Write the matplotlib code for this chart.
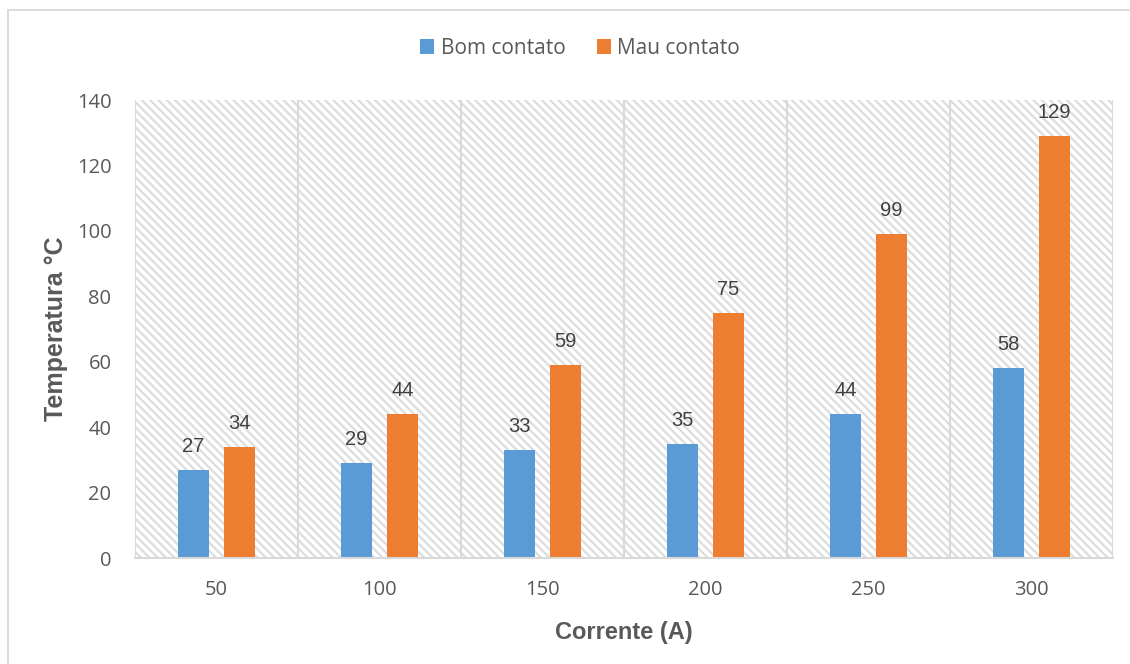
import matplotlib
matplotlib.use("Agg")
import matplotlib.pyplot as plt
from matplotlib.patches import Rectangle
import numpy as np

# Data
correntes = ["50", "100", "150", "200", "250", "300"]
bom_contato = [27, 29, 33, 35, 44, 58]
mau_contato = [34, 44, 59, 75, 99, 129]
y_ticks = [0, 20, 40, 60, 80, 100, 120, 140]

BLUE = "#5B9BD5"
ORANGE = "#ED7D31"
TEXT = "#595959"
GRID = "#D9D9D9"
HATCH = "#DDDDDD"

plt.rcParams["hatch.color"] = HATCH
plt.rcParams["hatch.linewidth"] = 1.6

W, H = 1130, 664
fig = plt.figure(figsize=(W / 100, H / 100), dpi=100)
fig.patch.set_facecolor("white")

# chart-area border
fig.patches.append(Rectangle((8 / W, -0.1), 1.2, 1.1 - 10 / H,
                             transform=fig.transFigure, fill=False,
                             edgecolor=GRID, linewidth=1.3, zorder=0))

ax = fig.add_axes([135 / W, 1 - 558 / H, (1113 - 135) / W, (558 - 100) / H])
ax.set_facecolor("white")

x = np.arange(len(correntes))
ax.set_xlim(-0.5, len(correntes) - 0.5)
ax.set_ylim(0, 140)

# hatched plot-area background
bg = Rectangle((0, 0), 1, 1, transform=ax.transAxes, facecolor="white",
               edgecolor=HATCH, hatch="\\\\\\\\", linewidth=0, zorder=0)
ax.add_patch(bg)

# category separators
for b in np.arange(-0.5, len(correntes), 1.0):
    ax.axvline(b, color=GRID, linewidth=1.5, zorder=1)

bw = 0.196
off = 0.141
bars1 = ax.bar(x - off, bom_contato, bw, color=BLUE, label="Bom contato", zorder=3)
bars2 = ax.bar(x + off, mau_contato, bw, color=ORANGE, label="Mau contato", zorder=3)

for bars, vals in ((bars1, bom_contato), (bars2, mau_contato)):
    for r, v in zip(bars, vals):
        ax.annotate(str(v), (r.get_x() + r.get_width() / 2, v),
                    xytext=(0, 10), textcoords="offset points",
                    ha="center", va="bottom", fontsize=14.5,
                    family="Liberation Sans", color="#404040")

for s in ("top", "right", "left"):
    ax.spines[s].set_visible(False)
ax.spines["bottom"].set_color(GRID)
ax.spines["bottom"].set_linewidth(1.5)
ax.spines["bottom"].set_zorder(4)

ax.set_xticks(x)
ax.set_xticklabels(correntes)
ax.set_yticks(y_ticks)
ax.tick_params(axis="both", length=0, labelsize=14.5, labelcolor=TEXT)
ax.tick_params(axis="x", pad=16)
ax.tick_params(axis="y", pad=17)
for lab in ax.get_xticklabels() + ax.get_yticklabels():
    lab.set_family("Open Sans")

ax.set_xlabel("Corrente (A)", fontsize=17, fontweight="bold", color=TEXT,
              family="Liberation Sans", labelpad=15)
ax.set_ylabel("Temperatura °C", fontsize=18, fontweight="bold", color=TEXT,
              family="Liberation Sans", labelpad=6)

leg = fig.legend(handles=[bars1, bars2], labels=["Bom contato", "Mau contato"],
                 loc="center", bbox_to_anchor=(580 / W, 1 - 48 / H), ncol=2,
                 frameon=False, handlelength=0.7, handleheight=0.7,
                 handletextpad=0.3, columnspacing=1.5,
                 prop={"family": "Open Sans", "size": 15})
for t in leg.get_texts():
    t.set_color(TEXT)

fig.savefig("out.png", dpi=100, facecolor="white")
